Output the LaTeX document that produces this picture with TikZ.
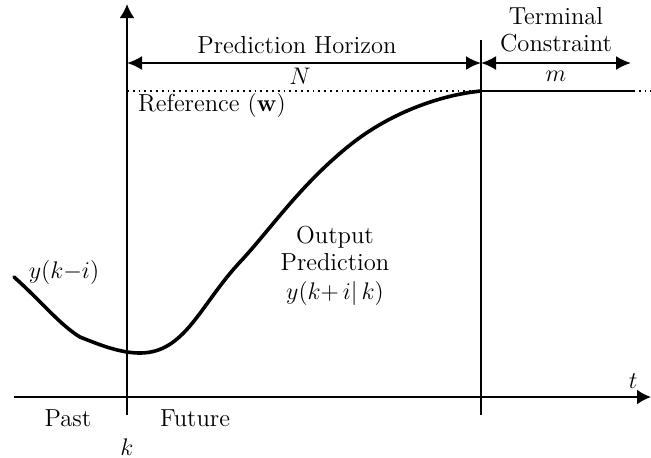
\documentclass[tikz,border=0pt]{standalone}
\usetikzlibrary{arrows.meta}
\tikzset{
  axis/.style={line width=1.1pt},
  horizon/.style={line width=1.1pt, {Latex[length=7.5pt,width=7pt]}-{Latex[length=7.5pt,width=7pt]}},
  lbl/.style={font=\fontsize{12.3}{13.5}\selectfont, inner sep=0pt},
  mlbl/.style={font=\fontsize{11.5}{12}\selectfont, inner sep=0pt}
}
\begin{document}
\begin{tikzpicture}[x=0.5pt, y=-0.5pt]
            \useasboundingbox (0,0) rectangle (651,457);
            % time and output axes
            \coordinate (tstart) at (14,397);
            \coordinate (tend) at (651,397);
            \coordinate (ktop) at (127,4);
            \coordinate (kbot) at (127,415);
            \coordinate (ntop) at (481,40);
            \coordinate (nbot) at (481,415);
            \draw[axis, -{Latex[length=7pt,width=7.5pt]}] (tstart) -- (tend);
            \draw[axis, -{Latex[length=7pt,width=7.5pt]}] (kbot) -- (ktop);
            \draw[axis] (nbot) -- (ntop);
            % horizons
            \coordinate (hl) at (127,63);
            \coordinate (hr) at (481,63);
            \coordinate (mr) at (631,63);
            \draw[horizon] (hl) -- (hr);
            \draw[horizon] (hr) -- (mr);
            % reference
            \coordinate (rl) at (127,91);
            \coordinate (rr) at (481,91);
            \coordinate (sr) at (633,91);
            \coordinate (er) at (651,91);
            \draw[dotted, line width=0.9pt] (rl) -- (rr);
            \draw[axis] (rr) -- (sr);
            \draw[dotted, line width=0.9pt] (sr) -- (er);
            % output trajectory
            \draw[line width=1.8pt, line cap=round]
              (14,277) .. controls (40,300) and (60,325) .. (80,337)
              .. controls (100,345) and (120,353) .. (140,353)
              .. controls (185,353) and (200,305) .. (240,262)
              .. controls (270,230) and (300,185) .. (350,145)
              .. controls (390,113) and (440,95) .. (rr);
            % labels
            \node[lbl] (ph) at (297,45) {Prediction Horizon};
            \node[mlbl] (nn) at (300,76) {$N$};
            \node[lbl, align=center] (tc) at (556,30) {Terminal\\Constraint};
            \node[mlbl] (mm) at (556,76) {$m$};
            \node[lbl] (ref) at (212,105) {Reference $(\mathbf{w})$};
            \node[lbl, align=center] (op) at (335,248) {Output\\Prediction};
            \node[mlbl] (ypr) at (335,293) {$y\bigl(k{+}\,i|\,k\bigr)$};
            \node[mlbl] (ypa) at (64,272) {$y\bigl(k{-}i\bigr)$};
            \node[lbl] (past) at (68,418) {Past};
            \node[lbl] (fut) at (195,418) {Future};
            \node[mlbl] (kk) at (127,447) {$k$};
            \node[mlbl] (tt) at (633,381) {$t$};
        \end{tikzpicture}
\end{document}
